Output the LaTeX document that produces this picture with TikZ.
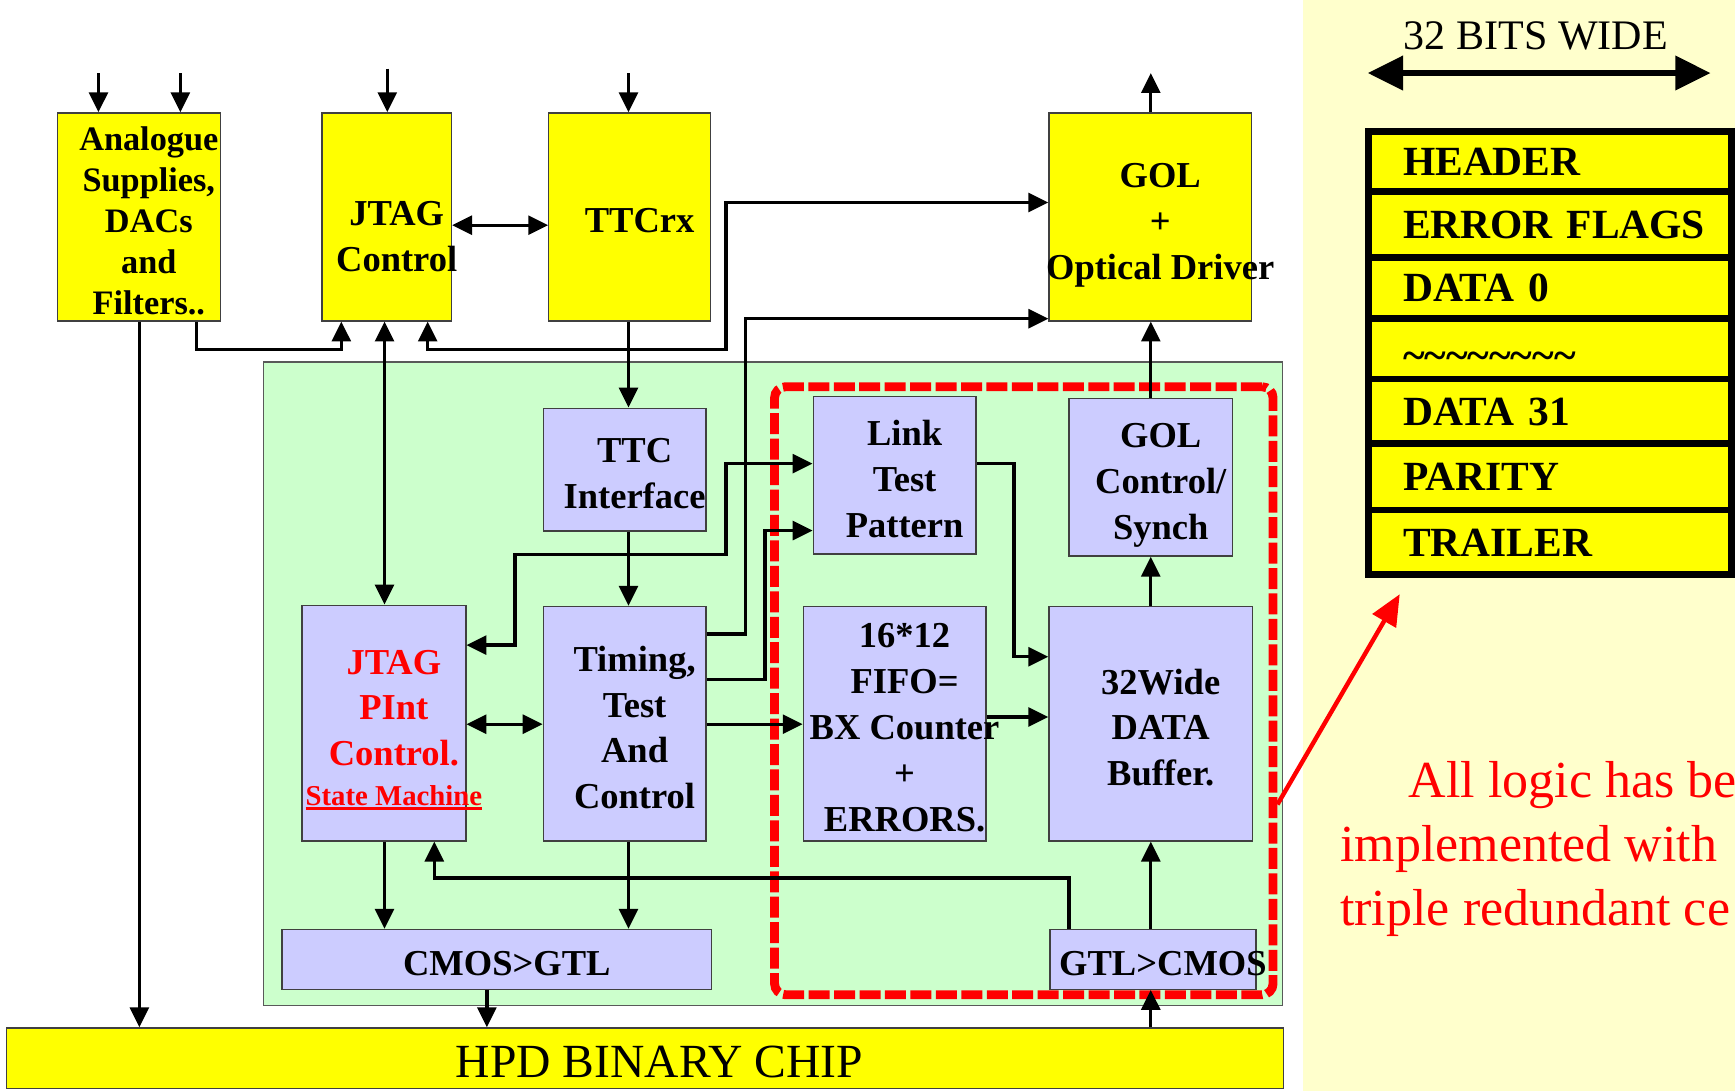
\documentclass[tikz,border=0pt]{standalone}
\usepackage{fontspec}
\setmainfont{Liberation Serif}
\usetikzlibrary{arrows.meta}

\definecolor{chipyellow}{HTML}{FFFF00}
\definecolor{lilac}{HTML}{CCCCFF}
\definecolor{mint}{HTML}{CCFFCC}
\definecolor{cream}{HTML}{FFFFCC}
\definecolor{alarm}{HTML}{FF0000}

\newcommand\bxfont{\fontsize{33}{41.5}\selectfont\bfseries}
\newcommand\smfont{\fontsize{26}{30}\selectfont\bfseries}
\newcommand\tlds{\raisebox{-6pt}{\textasciitilde\textasciitilde\textasciitilde\textasciitilde
  \textasciitilde\textasciitilde\textasciitilde\textasciitilde}}
\newcommand\redul[1]{\setbox0=\hbox{#1}\rlap{\rule[-4pt]{\wd0}{2.5pt}}\box0}

\begin{document}
\begin{tikzpicture}[x=1pt, y=-1pt, >={Triangle[length=18pt,width=17pt]},
  ybox/.style={draw=black!75, line width=1.2pt, fill=chipyellow, inner sep=0pt},
  pbox/.style={draw=black!75, line width=1.2pt, fill=lilac, inner sep=0pt},
  lbl/.style={align=center, font=\bxfont, xshift=9pt, yshift=-3.5pt, inner sep=0pt},
  con/.style={line width=3pt},
  row/.style={draw, line width=6pt, fill=chipyellow, text width=266pt,
              inner xsep=31pt, inner ysep=0pt, align=left, text height=25pt,
              text depth=0pt, font=\fontsize{37.5}{40}\selectfont\bfseries}
]
  \useasboundingbox (0,0) rectangle (1568,986);

  \node[fill=cream, inner sep=0pt, minimum width=390pt, minimum height=986pt]
    (panel) at (1373,493) {};
  \node[draw=black!65, line width=1.2pt, fill=mint, inner sep=0pt,
        minimum width=921pt, minimum height=582pt] (board) at (698.5,618) {};
  \node[draw=alarm, line width=8pt, dash pattern=on 19pt off 4pt,
        rounded corners=10pt, inner sep=0pt, minimum width=450.5pt,
        minimum height=549.5pt] (tmr) at (925.25,624.25) {};

  \node[ybox, minimum width=147pt, minimum height=188pt,
        label={[lbl, font=\fontsize{31}{37}\selectfont\bfseries]center:{Analogue\\Supplies,\\DACs\\and\\Filters..}}]
    (ana) at (125.5,196) {};
  \node[ybox, minimum width=117pt, minimum height=188pt,
        label={[lbl, yshift=-14.5pt]center:{JTAG\\Control}}] (jtag) at (349.5,196) {};
  \node[ybox, minimum width=146pt, minimum height=188pt,
        label={[lbl]center:TTCrx}] (ttcrx) at (569,196) {};
  \node[ybox, minimum width=183pt, minimum height=188pt,
        label={[lbl, yshift=-4pt]center:{GOL\\+\\Optical Driver}}] (gol) at (1039.5,196) {};

  \node[pbox, minimum width=147pt, minimum height=111pt,
        label={[lbl]center:{TTC\\Interface}}] (ttcif) at (564.5,424.5) {};
  \node[pbox, minimum width=147pt, minimum height=142pt,
        label={[lbl]center:{Link\\Test\\Pattern}}] (link) at (808.5,429.6) {};
  \node[pbox, minimum width=148pt, minimum height=142.5pt,
        label={[lbl, yshift=-3.5pt]center:{GOL\\Control/\\Synch}}] (golctl) at (1040,431.25) {};
  \node[pbox, minimum width=148pt, minimum height=213pt,
        label={[lbl, yshift=-2.5pt, text=alarm]center:{JTAG\\PInt\\Control.\\[-6pt]{\smfont\redul{State Machine}}}}]
    (jpint) at (347,653.5) {};
  \node[pbox, minimum width=147pt, minimum height=212pt,
        label={[lbl]center:{Timing,\\Test\\And\\Control}}] (timing) at (564.5,654) {};
  \node[pbox, minimum width=165pt, minimum height=212pt,
        label={[lbl]center:{16*12\\FIFO=\\BX Counter\\+\\ERRORS.}}] (fifo) at (808.5,654) {};
  \node[pbox, minimum width=184pt, minimum height=212pt,
        label={[lbl]center:{32Wide\\DATA\\Buffer.}}] (buf) at (1040,654) {};
  \node[pbox, minimum width=388pt, minimum height=54pt,
        label={[lbl]center:CMOS>GTL}] (c2g) at (449,867) {};
  \node[pbox, minimum width=186pt, minimum height=54pt,
        label={[lbl]center:GTL>CMOS}] (g2c) at (1042,867) {};
  \node[ybox, minimum width=1154pt, minimum height=55pt,
        label={[lbl, xshift=4pt, font=\fontsize{43}{46}\selectfont]center:HPD BINARY CHIP}]
    (hpd) at (583,956.5) {};

  \coordinate (in1) at (89,66);
  \coordinate (in2) at (163,66);
  \coordinate (in3) at (350,62);
  \coordinate (in4) at (568,66);
  \coordinate (gout) at (1040,66);

  \draw[con, ->] (in1) -- (in1 |- ana.north);
  \draw[con, ->] (in2) -- (in2 |- ana.north);
  \draw[con, ->] (in3) -- (in3 |- jtag.north);
  \draw[con, ->] (in4) -- (in4 |- ttcrx.north);
  \draw[con, ->] (1040,0 |- gol.north) -- (gout);

  \draw[con, <->] (jtag.east |- 0,203.5) -- (ttcrx.west |- 0,203.5);
  \draw[con, ->] (177.5,0 |- ana.south) -- (177.5,316) -- (308.5,316)
    -- (308.5,0 |- jtag.south);
  \draw[con, ->] (126,0 |- ana.south) -- (126,0 |- hpd.north);
  \draw[con, <->] (347.5,0 |- jtag.south) -- (347.5,0 |- jpint.north);
  \draw[con, <->] (386.5,0 |- jtag.south) -- (386.5,316) -- (656,316)
    -- (656,183) -- (gol.west |- 0,183);
  \draw[con, ->] (568,0 |- ttcrx.south) -- (568,0 |- ttcif.north);
  \draw[con, ->] (timing.east |- 0,573) -- (674,573) -- (674,288)
    -- (gol.west |- 0,288);
  \draw[con, <->] (jpint.east |- 0,583) -- (465.5,583) -- (465.5,501)
    -- (656,501) -- (656,419) -- (link.west |- 0,419);
  \draw[con, ->] (timing.east |- 0,614) -- (691.5,614) -- (691.5,479.5)
    -- (link.west |- 0,479.5);
  \draw[con, <->] (jpint.east |- 0,654.5) -- (timing.west |- 0,654.5);
  \draw[con, ->] (timing.east |- 0,654.5) -- (fifo.west |- 0,654.5);
  \draw[con, ->] (568,0 |- ttcif.south) -- (568,0 |- timing.north);
  \draw[con, ->] (link.east |- 0,419) -- (916.5,419) -- (916.5,593.5)
    -- (buf.west |- 0,593.5);
  \draw[con, ->] (fifo.east |- 0,648) -- (buf.west |- 0,648);
  \draw[con, ->] (buf.north) -- (golctl.south);
  \draw[con, ->] (golctl.north) -- (golctl.north |- gol.south);
  \draw[con, ->] (347.5,0 |- jpint.south) -- (347.5,0 |- c2g.north);
  \draw[con, ->] (568,0 |- timing.south) -- (568,0 |- c2g.north);
  \draw[con, ->] (966,0 |- g2c.north) -- (966,793.5) -- (392.5,793.5)
    -- (392.5,0 |- jpint.south);
  \draw[con, ->] (1040,0 |- g2c.north) -- (1040,0 |- buf.south);
  \draw[con, ->] (440,0 |- c2g.south) -- (440,0 |- hpd.north);
  \draw[con, ->] (1040,0 |- hpd.north) -- (1040,0 |- g2c.south);

  \coordinate (wl) at (1236,66);
  \coordinate (wr) at (1546,66);
  \draw[line width=6pt, {Triangle[length=32pt,width=30pt]}-{Triangle[length=32pt,width=30pt]}]
    (wl) -- (wr);
  \node[font=\fontsize{38}{40}\selectfont, inner sep=0pt] (bits) at (1388,32) {32 BITS WIDE};

  \foreach \nm/\yc/\rh/\txt in {hdr/146/54/HEADER, err/202.75/59.5/ERROR~FLAGS,
      d0/260.25/55.5/DATA 0, dots/315.25/54.5/\tlds, d31/371.75/58.5/DATA 31,
      par/431/60/PARITY, trl/490/58/TRAILER}
    \node[row, minimum height=\rh pt] (\nm) at (1401,\yc) {\txt};

  \coordinate (ptr) at (1265,537);
  \draw[alarm, line width=4pt, -{Triangle[length=28pt,width=24pt]}]
    (tmr.east |- 0,727) -- (ptr);

  \node[align=left, text=alarm, font=\fontsize{47}{58}\selectfont,
        inner sep=0pt, anchor=west] (note) at (1211,767)
    {\hspace*{62pt}All logic has be\\implemented with\\triple redundant ce};
\end{tikzpicture}
\end{document}
